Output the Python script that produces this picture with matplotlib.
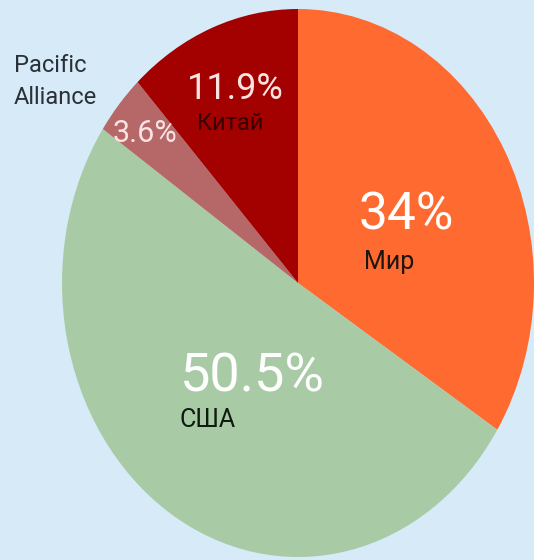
import matplotlib.pyplot as plt

# доли (по часовой стрелке от верха)
labels = ['Мир', 'США', 'Pacific\nAlliance', 'Китай']
values = [34, 50.5, 3.6, 11.9]
colors = ['#ff6a30', '#a8cba6', '#b66767', '#a30000']
pct_sizes = [37, 39, 22, 26]

# pixel layout of the picture
W, H = 534, 560
CX, CY, RX, RY = 298, 283, 236, 274


def px(x, y):
    return (x - CX) / RX, (CY - y) / RY


fig = plt.figure(figsize=(W / 100, H / 100), dpi=100)
fig.patch.set_facecolor('#d6eaf8')
ax = fig.add_axes([0, 0, 1, 1])
ax.set_facecolor('#d6eaf8')

wedges, _ = ax.pie(values, colors=colors, startangle=90, counterclock=False,
                   radius=1, wedgeprops=dict(linewidth=0))
ax.set_aspect('auto')
ax.set_xlim(px(0, 0)[0], px(W, 0)[0])
ax.set_ylim(px(0, H)[1], px(0, 0)[1])
ax.axis('off')

# percent labels
pct_pos = [(406, 216), (252, 377), (145, 134), (235, 89)]
pct_col = ['white', 'white', '#fbe3e3', '#fbe3e3']
for v, (x, y), s, c in zip(values, pct_pos, pct_sizes, pct_col):
    ax.text(*px(x, y), f'{v:g}%', fontsize=s, color=c, family='Roboto',
            ha='center', va='center')

# name labels
ax.text(*px(389, 262), labels[0], fontsize=18, color='#1e1410', family='Roboto',
        ha='center', va='center')
ax.text(*px(208, 420), labels[1], fontsize=18, color='#101a10', family='Roboto',
        ha='center', va='center')
ax.text(*px(14, 82), labels[2], fontsize=17, color='#2a3038', family='Roboto',
        ha='left', va='center', linespacing=1.5)
ax.text(*px(230, 124), labels[3], fontsize=17, color='#3a0000', family='Roboto',
        ha='center', va='center')

fig.savefig('out.png', dpi=100, facecolor=fig.get_facecolor())
